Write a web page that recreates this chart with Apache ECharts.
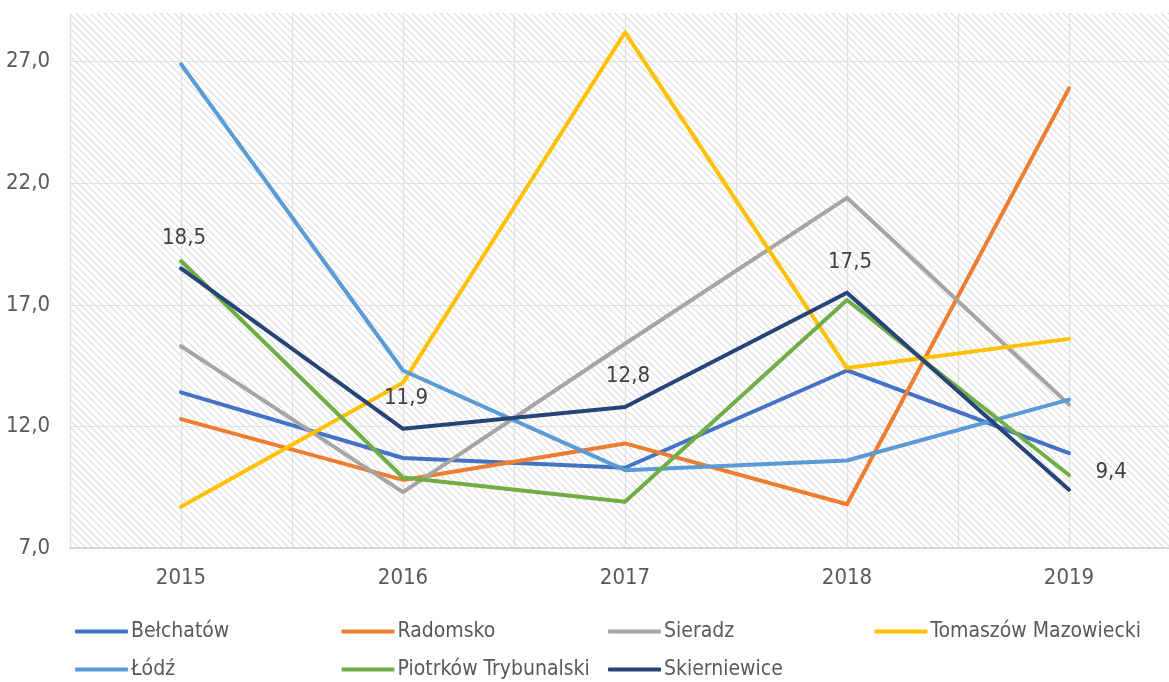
<!DOCTYPE html>
<html>
<head>
<meta charset="utf-8">
<script src="https://cdn.jsdelivr.net/npm/echarts@6/dist/echarts.min.js"></script>
<style>
  html, body { margin: 0; padding: 0; background: #fff; }
  #chart { width: 1169px; height: 682px; }
</style>
</head>
<body>
<div id="chart"></div>
<script>
// dane
const years = [2015, 2016, 2017, 2018, 2019];
const belchatow = [13.4, 10.7, 10.3, 14.3, 10.9];
const radomsko = [12.3, 9.8, 11.3, 8.8, 25.9];
const sieradz = [15.3, 9.3, 15.4, 21.4, 12.9];
const tomaszow = [8.7, 13.8, 28.2, 14.4, 15.6];
const lodz = [26.9, 14.3, 10.2, 10.6, 13.1];
const piotrkow = [18.8, 9.9, 8.9, 17.2, 10.0];
const skierniewice = [18.5, 11.9, 12.8, 17.5, 9.4];
const yTicks = [7, 12, 17, 22, 27];

const names = ['Bełchatów', 'Radomsko', 'Sieradz', 'Tomaszów Mazowiecki', 'Łódź', 'Piotrków Trybunalski', 'Skierniewice'];
const values = [belchatow, radomsko, sieradz, tomaszow, lodz, piotrkow, skierniewice];
const colors = ['#4472C4', '#ED7D31', '#A5A5A5', '#FFC000', '#5B9BD5', '#70AD47', '#264478'];

const FONT = "'Liberation Sans Narrow', 'Arial Narrow', 'DejaVu Sans Condensed', sans-serif";
const FS = 22;
const fmt = v => v.toFixed(1).replace('.', ',');

// tło z ukośnym kreskowaniem
const tile = document.createElement('canvas');
tile.width = 7; tile.height = 7;
const c = tile.getContext('2d');
c.strokeStyle = '#dddddd';
c.lineWidth = 1.1;
c.beginPath();
c.moveTo(-1, -1); c.lineTo(8, 8);
c.moveTo(-1, 6); c.lineTo(1, 8);
c.moveTo(6, -1); c.lineTo(8, 1);
c.stroke();

const series = names.map((name, i) => {
  const s = {
    name: name,
    type: 'line',
    symbol: 'none',
    data: years.map((y, j) => [y, values[i][j]]),
    lineStyle: { width: 4, color: colors[i], cap: 'round', join: 'round' },
    itemStyle: { color: colors[i] },
    emphasis: { disabled: true }
  };
  if (name === 'Skierniewice') {
    // etykiety wymagają symbolu, więc symbol jest prawie niewidoczny
    s.symbol = 'circle';
    s.symbolSize = 1;
    s.showSymbol = true;
    s.label = {
      show: true,
      position: 'top',
      distance: 19,
      offset: [3, 0],
      color: '#404040',
      fontSize: FS,
      fontFamily: FONT,
      formatter: p => fmt(p.value[1])
    };
    s.data = years.map((y, j) => {
      const d = { value: [y, values[i][j]] };
      if (j === years.length - 1) {
        d.label = { position: 'right', distance: 26, offset: [0, -17] };
      }
      return d;
    });
  }
  return s;
});

// legenda: 4 kolumny, 2 wiersze
const legends = names.map((name, i) => ({
  left: 75 + (i % 4) * 266.5,
  top: i < 4 ? 621 : 659,
  padding: 0,
  icon: 'roundRect',
  itemWidth: 53, itemHeight: 4,
  itemGap: 0,
  data: [name],
  selectedMode: false,
  textStyle: { color: '#595959', fontSize: 21, fontFamily: FONT, padding: [0, 0, 0, -2] }
}));

const chart = echarts.init(document.getElementById('chart'));
chart.setOption({
  animation: false,
  textStyle: { fontFamily: FONT },
  grid: {
    left: 70, top: 13, width: 1110, height: 535,
    outerBoundsMode: 'none',
    containLabel: false,
    show: true, borderWidth: 0,
    backgroundColor: { image: tile, repeat: 'repeat' }
  },
  xAxis: {
    type: 'value',
    min: 2014.5, max: 2019.5, interval: 0.5,
    axisLine: { show: true, lineStyle: { color: '#d0d0d0', width: 1.5 } },
    axisTick: { show: false },
    axisLabel: {
      color: '#595959', fontSize: FS, fontFamily: FONT, margin: 19,
      formatter: v => (years.indexOf(v) >= 0 ? String(v) : '')
    },
    splitLine: { show: true, lineStyle: { color: '#e2e2e2', width: 1.2 } }
  },
  yAxis: {
    type: 'value',
    min: 7, max: 29, interval: 5,
    axisLine: { show: false },
    axisTick: { show: false },
    axisLabel: {
      color: '#595959', fontSize: FS, fontFamily: FONT, margin: 20,
      showMaxLabel: false,
      formatter: v => (yTicks.indexOf(v) >= 0 ? fmt(v) : '')
    },
    splitLine: { show: true, showMaxLine: false, lineStyle: { color: '#e2e2e2', width: 1.2 } }
  },
  legend: legends,
  series: series
});
</script>
</body>
</html>
